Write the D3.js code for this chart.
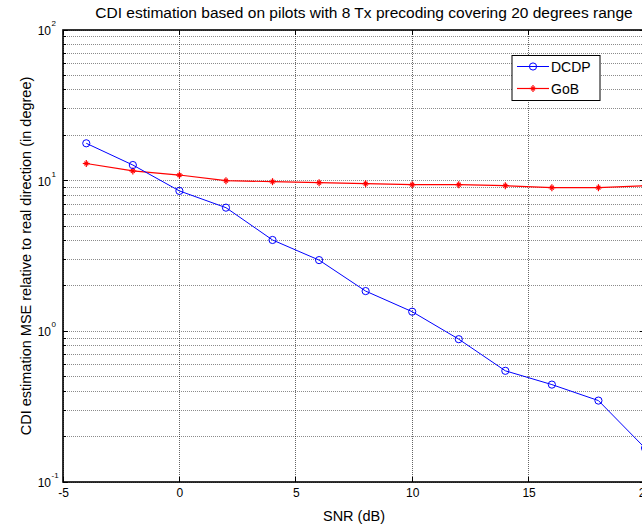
<!DOCTYPE html>
<html>
<head>
<meta charset="utf-8">
<script src="https://cdn.jsdelivr.net/npm/d3@7/dist/d3.min.js"></script>
<style>
  html, body { margin: 0; padding: 0; background: #fff; }
  svg { display: block; font-family: "Liberation Sans", Arial, sans-serif; }
</style>
</head>
<body>
<svg id="chart" width="642" height="528"></svg>
<script>
// SNR sample points (dB)
const snr = [-4, -2, 0, 2, 4, 6, 8, 10, 12, 14, 16, 18, 20];
// MSE of the estimated direction (degrees) for each scheme
const dcdp = [17.7, 12.7, 8.55, 6.62, 4.04, 2.97, 1.85, 1.35, 0.887, 0.547, 0.443, 0.347, 0.168];
const gob  = [13.0, 11.6, 10.9, 10.0, 9.85, 9.7, 9.55, 9.4, 9.4, 9.26, 8.98, 8.98, 9.26];
const seriesNames = ["DCDP", "GoB"];
// axis ticks
const xTicks = [-5, 0, 5, 10, 15, 20];
const xTickLabels = ["-5", "0", "5", "10", "15", "20"];
const yMajor = [0.1, 1, 10, 100];
const yExp = [-1, 0, 1, 2];

const svg = d3.select("#chart");
const L = 63, R = 645, T = 30, B = 482;
const x = d3.scaleLinear().domain([-5, 20]).range([L, R]);
const y = d3.scaleLog().domain([0.1, 100]).range([B, T]);

// minor log positions 2..9 in each decade
const yMinor = [];
for (let d = 0; d < 3; d++) {
  for (let k = 2; k <= 9; k++) yMinor.push(k * Math.pow(10, d - 1));
}

const grid = svg.append("g");
// horizontal grid (major + minor)
grid.selectAll("line.hg").data(yMajor.concat(yMinor)).join("line")
  .attr("x1", L).attr("x2", R)
  .attr("y1", d => y(d)).attr("y2", d => y(d))
  .attr("stroke", "#000").attr("stroke-width", 1)
  .attr("stroke-dasharray", "1,1").attr("opacity", 0.45)
  .attr("shape-rendering", "crispEdges");
// vertical grid
grid.selectAll("line.vg").data(xTicks).join("line")
  .attr("x1", d => x(d)).attr("x2", d => x(d))
  .attr("y1", T).attr("y2", B)
  .attr("stroke", "#000").attr("stroke-width", 1)
  .attr("stroke-dasharray", "1,1").attr("opacity", 0.6)
  .attr("shape-rendering", "crispEdges");

// tick marks (inward) on all four sides
const tk = svg.append("g").attr("stroke", "#000").attr("stroke-width", 1).attr("shape-rendering", "crispEdges");
xTicks.forEach(v => {
  tk.append("line").attr("x1", x(v)).attr("x2", x(v)).attr("y1", B).attr("y2", B - 5);
  tk.append("line").attr("x1", x(v)).attr("x2", x(v)).attr("y1", T).attr("y2", T + 5);
});
yMajor.concat(yMinor).forEach(v => {
  const len = yMajor.includes(v) ? 5 : 3;
  tk.append("line").attr("x1", L).attr("x2", L + len).attr("y1", y(v)).attr("y2", y(v));
  tk.append("line").attr("x1", R).attr("x2", R - len).attr("y1", y(v)).attr("y2", y(v));
});

// axes box
svg.append("rect").attr("x", L).attr("y", T).attr("width", R - L).attr("height", B - T)
  .attr("fill", "none").attr("stroke", "#000").attr("stroke-width", 1.6);

// x axis labels via d3 axis (ticks hidden, box drawn above)
const xAxis = svg.append("g").attr("transform", `translate(0,${B})`)
  .call(d3.axisBottom(x).tickValues(xTicks).tickSize(0).tickPadding(6)
    .tickFormat((d, i) => xTickLabels[i]));
xAxis.select(".domain").remove();
xAxis.selectAll("text").attr("font-size", 12).attr("font-family", "Liberation Sans, Arial, sans-serif").attr("fill", "#000").attr("dy", "0.71em");

// y axis labels: 10 with superscript exponent
const yl = svg.append("g");
yMajor.forEach((v, i) => {
  yl.append("text").attr("x", 51).attr("y", y(v) + 5)
    .attr("text-anchor", "end").attr("font-size", 12).attr("fill", "#000").text("10");
  yl.append("text").attr("x", 51.5).attr("y", y(v) - 4)
    .attr("font-size", 8).attr("fill", "#000").text(String(yExp[i]));
});

// series
const line = d3.line().x(d => x(d[0])).y(d => y(d[1]));
const dcdpPts = snr.map((s, i) => [s, dcdp[i]]);
const gobPts = snr.map((s, i) => [s, gob[i]]);

svg.append("path").datum(gobPts).attr("d", line)
  .attr("fill", "none").attr("stroke", "#ff0000").attr("stroke-width", 1.2);
const plusMark = (g, cx, cy, s) => {
  g.append("line").attr("x1", cx - s).attr("x2", cx + s).attr("y1", cy).attr("y2", cy);
  g.append("line").attr("x1", cx).attr("x2", cx).attr("y1", cy - s).attr("y2", cy + s);
  g.append("line").attr("x1", cx - s * 0.55).attr("x2", cx + s * 0.55).attr("y1", cy - s * 0.55).attr("y2", cy + s * 0.55);
  g.append("line").attr("x1", cx - s * 0.55).attr("x2", cx + s * 0.55).attr("y1", cy + s * 0.55).attr("y2", cy - s * 0.55);
};
const gm = svg.append("g").attr("stroke", "#ff0000").attr("stroke-width", 1.2);
gobPts.forEach(d => plusMark(gm, x(d[0]), y(d[1]), 3.5));

svg.append("path").datum(dcdpPts).attr("d", line)
  .attr("fill", "none").attr("stroke", "#0000ff").attr("stroke-width", 1);
svg.append("g").selectAll("circle").data(dcdpPts).join("circle")
  .attr("cx", d => x(d[0])).attr("cy", d => y(d[1])).attr("r", 3.6)
  .attr("fill", "none").attr("stroke", "#0000ff").attr("stroke-width", 1);

// legend
const lg = svg.append("g");
lg.append("rect").attr("x", 512).attr("y", 55.5).attr("width", 88).attr("height", 45)
  .attr("fill", "#fff").attr("stroke", "#000").attr("stroke-width", 1);
const rows = [66.5, 88.5];
lg.append("line").attr("x1", 517).attr("x2", 549).attr("y1", rows[0]).attr("y2", rows[0]).attr("stroke", "#0000ff");
lg.append("circle").attr("cx", 533).attr("cy", rows[0]).attr("r", 3.6).attr("fill", "none").attr("stroke", "#0000ff");
lg.append("line").attr("x1", 517).attr("x2", 549).attr("y1", rows[1]).attr("y2", rows[1]).attr("stroke", "#ff0000").attr("stroke-width", 1.2);
const lgm = lg.append("g").attr("stroke", "#ff0000").attr("stroke-width", 1.2);
plusMark(lgm, 533, rows[1], 3.5);
lg.selectAll("text.lt").data(seriesNames).join("text")
  .attr("x", 551).attr("y", (d, i) => rows[i] + 5)
  .attr("font-size", 14).attr("fill", "#000").text(d => d);

// title and axis labels
svg.append("text").attr("x", 364).attr("y", 18).attr("text-anchor", "middle")
  .attr("font-size", 15.5).attr("fill", "#000")
  .text("CDI estimation based on pilots with 8 Tx precoding covering 20 degrees range");
svg.append("text").attr("x", 354).attr("y", 521).attr("text-anchor", "middle")
  .attr("font-size", 14.5).attr("fill", "#000").text("SNR (dB)");
svg.append("text").attr("transform", `translate(31,256) rotate(-90)`).attr("text-anchor", "middle")
  .attr("font-size", 14.5).attr("fill", "#000")
  .text("CDI estimation MSE relative to real direction (in degree)");
</script>
</body>
</html>
